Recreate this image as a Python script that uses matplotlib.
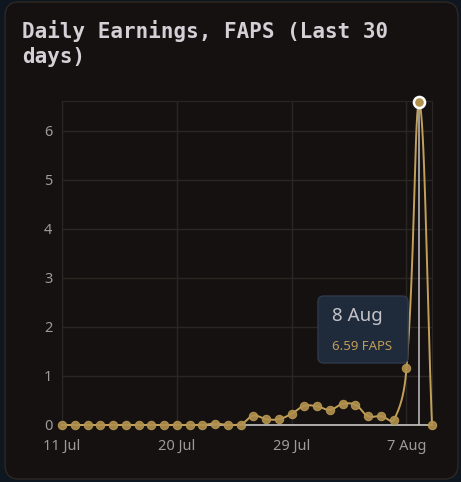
import numpy as np
import pandas as pd
import matplotlib
matplotlib.use("Agg")
import matplotlib.pyplot as plt
from matplotlib.patches import FancyBboxPatch

# daily earnings, 11 Jul .. 9 Aug
earnings = [0, 0, 0, 0, 0, 0, 0, 0, 0, 0, 0, 0, 0.03, 0, 0.01,
            0.19, 0.12, 0.12, 0.23, 0.39, 0.38, 0.31, 0.43, 0.41,
            0.18, 0.18, 0.10, 1.16, 6.59, 0]
dates = pd.date_range("2024-07-11", periods=len(earnings))
day_labels = [f"{d.day} {d.strftime('%b')}" for d in dates]
xtick_idx = [0, 9, 18, 27]
yticks = [0, 1, 2, 3, 4, 5, 6]
hover = 28
unit = "FAPS"

bg_outer = "#0e1620"
card = "#141110"
gold = "#c2a05a"
grid = "#2a2624"
tick_col = "#9c9a9a"

W, H = 461, 482
fig = plt.figure(figsize=(W / 100, H / 100), dpi=100)
fig.patch.set_facecolor(bg_outer)

# card background
fig.patches.append(FancyBboxPatch((5 / W, 3 / H), 453 / W, 477 / H,
                                  boxstyle="round,pad=0,rounding_size=0.03",
                                  transform=fig.transFigure, facecolor=card,
                                  edgecolor="#2e2822", linewidth=1, zorder=-1))

fig.text(22 / W, 1 - 20 / H, "Daily Earnings, FAPS (Last 30\ndays)",
         family="DejaVu Sans Mono", weight="bold", fontsize=15,
         color="#d6cfd6", va="top", ha="left", linespacing=1.3)

ax = fig.add_axes([62 / W, (H - 425) / H, (432 - 62) / W, (425 - 101) / H])
ax.set_zorder(1)
ax.set_facecolor(card)
ymax = 6.61
ax.set_xlim(0, len(earnings) - 1)
ax.set_ylim(0, ymax)

for s in ["top", "right", "left"]:
    ax.spines[s].set_color(grid)
ax.spines["bottom"].set_color("#c9c6c6")
ax.spines["bottom"].set_linewidth(1.2)
ax.grid(True, color=grid, linewidth=1)
ax.set_axisbelow(True)

ax.set_xticks(xtick_idx)
ax.set_xticklabels([day_labels[i] for i in xtick_idx])
ax.set_yticks(yticks)
ax.tick_params(length=0, colors=tick_col, labelsize=10.5)
for lab in ax.get_xticklabels() + ax.get_yticklabels():
    lab.set_family("Noto Sans")
ax.tick_params(axis="y", pad=7)
ax.tick_params(axis="x", pad=10)

# smooth line like chart.js (tension 0.4), computed in pixel space
x = np.arange(len(earnings), dtype=float)
y = np.array(earnings, dtype=float)
pts = ax.transData.transform(np.column_stack([x, y]))
n = len(pts)
t = 0.4
cp_prev = pts.copy()
cp_next = pts.copy()
for i in range(n):
    p0 = pts[max(i - 1, 0)]
    p1 = pts[i]
    p2 = pts[min(i + 1, n - 1)]
    d01 = np.hypot(*(p1 - p0))
    d12 = np.hypot(*(p2 - p1))
    tot = d01 + d12
    if tot == 0:
        continue
    fa = t * d01 / tot
    fb = t * d12 / tot
    cp_prev[i] = p1 - fa * (p2 - p0)
    cp_next[i] = p1 + fb * (p2 - p0)
top_px = ax.transData.transform((0, ymax))[1]
bot_px = ax.transData.transform((0, 0))[1]
cp_prev[:, 1] = np.clip(cp_prev[:, 1], bot_px, top_px)
cp_next[:, 1] = np.clip(cp_next[:, 1], bot_px, top_px)
curve = []
u = np.linspace(0, 1, 30)[:, None]
for i in range(n - 1):
    a, b, c, d = pts[i], cp_next[i], cp_prev[i + 1], pts[i + 1]
    seg = (1 - u) ** 3 * a + 3 * (1 - u) ** 2 * u * b + 3 * (1 - u) * u ** 2 * c + u ** 3 * d
    curve.append(seg)
curve = np.vstack(curve)
curve_data = ax.transData.inverted().transform(curve)

# hover guide line
ax.axvline(hover, color="#a9a7a9", linewidth=1.3, zorder=2)

ax.plot(curve_data[:, 0], curve_data[:, 1], color=gold, linewidth=1.4,
        zorder=3, clip_on=False)
mask = np.arange(n) != hover
ax.plot(x[mask], y[mask], linestyle="none", marker="o", markersize=6,
        markerfacecolor="#b2914f", markeredgecolor="#b99852",
        markeredgewidth=0.8, alpha=0.9, zorder=4, clip_on=False)
ax.plot([x[hover]], [y[hover]], linestyle="none", marker="o", markersize=8,
        markerfacecolor="#b2914f", markeredgecolor="white",
        markeredgewidth=1.8, zorder=5, clip_on=False)

# tooltip
fig.patches.append(FancyBboxPatch((318 / W, (H - 363) / H), 90 / W, 67 / H,
                                  boxstyle="round,pad=0,rounding_size=0.012",
                                  transform=fig.transFigure, facecolor="#1f2a3a",
                                  edgecolor="#2e394a", linewidth=1, zorder=10))
fig.text(332 / W, 1 - 316 / H, day_labels[hover], family="Noto Sans",
         fontsize=13.5, color="#c3c3c9", va="center", ha="left", zorder=11)
fig.text(332 / W, 1 - 346 / H, f"{earnings[hover]:.2f} {unit}", family="Noto Sans",
         fontsize=9.5, color="#c09d58", va="center", ha="left", zorder=11)

fig.savefig("out.png", dpi=100, facecolor=fig.get_facecolor())
